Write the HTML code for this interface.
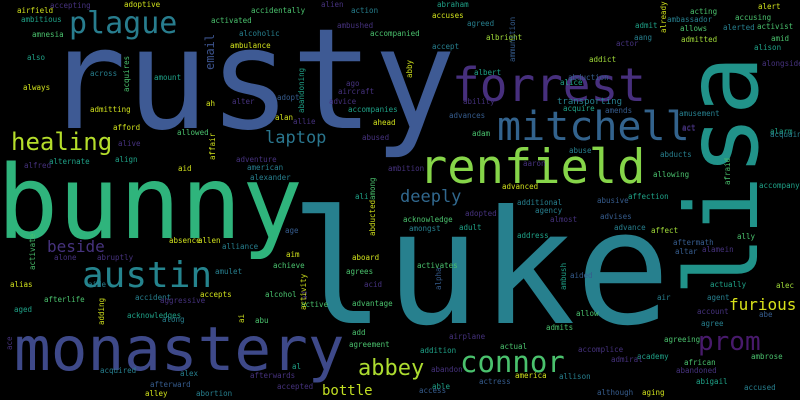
<!DOCTYPE html>
<html><head><meta charset="utf-8"><style>
html,body{margin:0;padding:0;background:#000;width:800px;height:400px;overflow:hidden}
svg{display:block}
text{font-family:"DejaVu Sans Mono","Liberation Mono",monospace}
</style></head><body>
<svg id="cloud" width="800" height="400" viewBox="0 0 800 400">
<rect width="800" height="400" fill="#000"/>
<text x="44" y="128" font-size="140" textLength="412" lengthAdjust="spacingAndGlyphs" fill="#3e5a94">rusty</text>
<text x="-3" y="238" font-size="102" textLength="306" lengthAdjust="spacingAndGlyphs" fill="#2fb47c">bunny</text>
<text x="290" y="323" font-size="158" fill="#27808e">luke</text>
<text transform="translate(757,296) rotate(-90)" font-size="100" fill="#21938a">lisa</text>
<text x="452" y="101" font-size="46" fill="#472f7d">forrest</text>
<text x="497" y="140" font-size="40" fill="#33638d">mitchell</text>
<text x="419" y="183" font-size="47" fill="#86d549">renfield</text>
<text x="69" y="33" font-size="30" fill="#287d8e">plague</text>
<text x="11" y="150" font-size="24" fill="#b5de2b">healing</text>
<text x="265" y="143" font-size="17" fill="#2a768e">laptop</text>
<text transform="translate(214,70) rotate(-90)" font-size="12" fill="#3b528b">email</text>
<text x="400" y="202" font-size="17" fill="#31688e">deeply</text>
<text x="47" y="252" font-size="16" fill="#46337e">beside</text>
<text x="82" y="287" font-size="36" fill="#25848e">austin</text>
<text x="14" y="370" font-size="61" fill="#3e4989">monastery</text>
<text x="460" y="372" font-size="29" fill="#4ac16d">connor</text>
<text x="358" y="375" font-size="22" fill="#addc30">abbey</text>
<text x="322" y="395" font-size="14" fill="#c2df23">bottle</text>
<text x="698" y="350" font-size="26" fill="#481a6c">prom</text>
<text x="729" y="310" font-size="16" fill="#d8e219">furious</text>
<text x="557" y="104" font-size="9" fill="#277f8e">transporting</text>
</svg>
<script>
const palette = ["#d0e11c","#a0da39","#4ac16d","#1fa187","#277f8e","#365c8d","#46327e","#440154"];
const words = ["airfield","accepting","adoptive","accidentally","alien","action","ambitious","activated","ambushed","amnesia","alcoholic","accompanied","ambulance","also","across","acquires","amount","always","abandoning","abby","ago","aircraft","ah","alter","adopt","advice","accompanies","admitting","alan","allie","ahead","afford","allowed","abused","affair","alive","alternate","align","adventure","alfred","american","aid","ambition","alexander","ali","among","abducted","acknowledge","amongst","age","absence","allen","alliance","activate","alone","abruptly","aim","aboard","achieve","agrees","amulet","activates","aaron","abuse","abducts","adam","act","alarm","allowing","afraid","accompany","advanced","affection","additional","abusive","agency","adopted","advises","almost","adult","advance","affect","address","ally","aftermath","alamein","altar","aided","alpha","ambush","acid","actually","alec","ad","active","advantage","air","agent","allow","account","abe","agree","admits","add","airplane","agreement","actual","agreeing","addition","accomplice","academy","admiral","ambrose","african","al","abandon","abandoned","america","allison","actress","abigail","accused","accepted","able","access","although","aging","acting","alert","accusing","already","ambassador","admit","allows","alerted","activist","aang","admitted","amid","actor","alison","alongside","amends","amusement","act","acquaintance","alias","aide","accident","afterlife","accepts","aggressive","alcohol","aged","adding","acknowledges","along","abu","ai","activity","ace","acquired","alex","afterwards","afterward","alley","abortion","accuses","abraham","accept","acquire","agreed","albright","addict","albert","abduction","ammunition","alice","ability","advances"];
const wx = [17,50,124,251,321,351,21,211,337,32,239,370,230,27,90,129,154,23,304,412,346,338,206,232,277,329,348,90,275,293,373,113,177,362,215,118,49,115,236,24,247,178,388,250,355,375,375,403,409,285,169,198,222,35,54,97,286,352,273,346,215,417,523,569,660,472,682,770,653,730,759,502,628,517,597,535,465,600,550,459,614,651,517,737,673,702,675,570,441,566,364,710,776,307,301,352,657,707,576,697,759,701,546,352,449,349,500,664,420,578,637,611,751,684,292,431,676,515,559,479,696,744,277,432,419,597,642,690,758,735,666,667,635,680,723,757,634,681,771,616,754,762,605,679,682,770,10,88,135,44,200,160,265,14,104,127,162,255,244,306,12,100,180,250,150,145,196,432,437,432,563,467,486,589,474,568,515,560,463,449,617];
const wy = [13,8,7,13,7,13,22,23,28,37,36,36,48,60,76,92,80,90,113,78,86,94,106,104,100,104,112,112,120,124,125,130,135,140,160,146,164,162,162,168,170,171,171,180,199,200,236,222,231,233,243,243,249,270,260,260,257,260,268,274,274,268,166,153,157,136,130,134,177,185,188,189,199,205,203,213,216,219,222,230,230,233,238,239,245,252,254,278,290,290,287,287,288,300,307,306,300,300,316,314,317,326,330,335,339,347,349,342,353,352,359,362,359,365,369,372,373,378,379,384,384,390,389,389,393,395,395,14,9,20,33,22,28,31,30,29,40,42,41,46,50,66,113,116,131,137,287,287,300,302,297,303,297,312,325,318,322,323,323,310,350,373,376,378,387,396,396,18,7,49,111,26,40,62,75,80,62,85,104,118,236];
const wc = [0,6,0,2,6,4,3,2,6,2,4,2,0,3,4,2,3,0,3,0,6,6,0,6,5,6,3,0,0,6,0,0,2,6,0,6,3,3,6,6,4,0,6,4,3,2,0,2,4,5,0,0,4,2,6,6,0,0,2,2,4,2,6,4,4,2,6,3,2,2,3,0,3,4,5,4,6,5,6,3,4,1,3,2,5,6,5,5,5,3,6,3,1,6,2,2,4,4,2,6,5,4,2,2,6,2,2,2,3,6,3,6,2,2,3,6,6,0,4,5,3,4,6,3,5,5,0,2,0,2,0,4,3,2,4,2,4,1,2,6,3,6,5,4,6,4,0,4,4,2,0,6,2,3,0,3,4,2,0,0,6,4,4,6,5,0,4,0,3,4,3,4,1,1,3,5,5,3,6,5,3,3];
const wr = [0,0,0,0,0,0,0,0,0,0,0,0,0,0,0,1,0,0,1,1,0,0,0,0,0,0,0,0,0,0,0,0,0,0,1,0,0,0,0,0,0,0,0,0,0,1,1,0,0,0,0,0,0,1,0,0,0,0,0,0,0,0,0,0,0,0,0,0,0,1,0,0,0,0,0,0,0,0,0,0,0,0,0,0,0,0,0,0,1,1,0,0,0,1,0,0,0,0,0,0,0,0,0,0,0,0,0,0,0,0,0,0,0,0,0,0,0,0,0,0,0,0,0,0,0,0,0,0,0,0,1,0,0,0,0,0,0,0,0,0,0,0,0,0,0,0,0,0,0,0,0,0,0,0,1,0,0,0,1,1,1,0,0,0,0,0,0,0,0,0,0,0,0,0,0,0,1,0,0,0];
const svg = document.getElementById('cloud');
const NS = 'http://www.w3.org/2000/svg';
for (let i = 0; i < words.length; i++) {
  if (wx[i] === undefined || wy[i] === undefined) continue;
  const t = document.createElementNS(NS, 'text');
  t.textContent = words[i];
  t.setAttribute('font-size', '7.5');
  t.setAttribute('fill', palette[wc[i] || 0]);
  if (wr[i]) {
    t.setAttribute('transform', 'translate(' + wx[i] + ',' + wy[i] + ') rotate(-90)');
  } else {
    t.setAttribute('x', wx[i]);
    t.setAttribute('y', wy[i]);
  }
  
  
  svg.appendChild(t);
}
</script>
</body></html>
